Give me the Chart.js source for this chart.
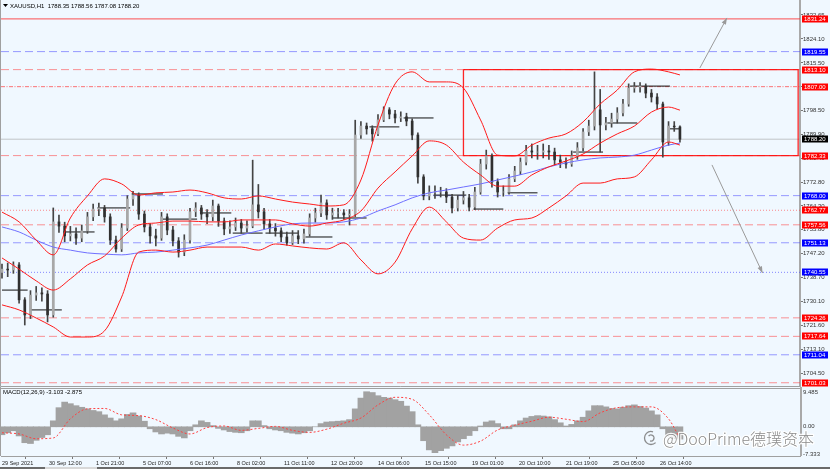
<!DOCTYPE html>
<html>
<head>
<meta charset="utf-8">
<script src="https://cdn.jsdelivr.net/npm/chart.js@4.4.1/dist/chart.umd.min.js"></script>
<style>
  html, body { margin: 0; padding: 0; background: #f0f8ff; }
  #wrap { position: relative; width: 830px; height: 469px; overflow: hidden; background: #f0f8ff; }
  #main { position: absolute; left: 0; top: 0; }
  #macd { position: absolute; left: 0; top: 387px; }
</style>
</head>
<body>
<div id="wrap">
  <canvas id="main" width="830" height="387"></canvas>
  <canvas id="macd" width="830" height="82"></canvas>
</div>
<script>
// XAUUSD H1, one sample every 4 bars (bar index on x)
const sampleStep = 4;
const firstOpen = 1740.5;
const closes = [1741.7,1741.4,1743.2,1730.7,1725.3,1732.4,1733.2,1732.8,1725.3,1758.6,
  1757.1,1753.6,1754.3,1752.8,1755.4,1760.4,1763.2,1763.6,1760.4,1752.1,
  1748.9,1756.4,1766.8,1768.2,1761.4,1756.8,1753.6,1752.8,1760.4,1755.7,
  1751.8,1747.8,1752.1,1762.2,1763.6,1761.4,1760.4,1764.3,1758.9,1756.1,
  1756.8,1758.2,1756.4,1757.1,1764.7,1762.2,1757.9,1756.4,1755.4,1753.2,
  1751.1,1753.6,1752.5,1754.3,1760.0,1761.8,1765.4,1761.1,1761.8,1761.8,
  1761.1,1761.4,1789.7,1792.9,1791.9,1790.1,1795.1,1798.7,1797.2,1795.8,
  1796.2,1794.7,1789.7,1774.7,1767.9,1769.3,1769.3,1769.3,1767.5,1763.6,
  1766.4,1767.2,1763.9,1769.3,1779.3,1782.2,1772.9,1769.3,1769.3,1774.0,
  1776.8,1780.0,1784.0,1783.6,1783.6,1784.0,1783.6,1780.8,1780.0,1779.3,
  1782.2,1785.1,1790.8,1792.9,1798.7,1793.3,1794.0,1795.4,1797.6,1800.8,
  1806.5,1806.9,1807.2,1804.7,1803.3,1800.8,1787.2,1792.9,1792.6,1788.2];
const highs = [1743.5,1743.9,1744.3,1744.0,1731.5,1734.0,1735.5,1735.0,1734.0,1763.6,
  1761.0,1758.5,1757.0,1756.5,1757.5,1762.0,1765.0,1765.3,1764.5,1761.5,
  1753.5,1758.0,1768.0,1769.5,1769.0,1762.5,1758.0,1756.0,1762.0,1761.5,
  1757.0,1753.0,1754.0,1763.5,1765.5,1764.5,1763.0,1766.4,1765.0,1760.0,
  1759.0,1760.0,1759.5,1759.0,1780.7,1772.0,1763.5,1759.5,1758.0,1756.5,
  1755.0,1755.5,1755.5,1756.0,1761.5,1763.5,1768.2,1766.5,1763.5,1763.5,
  1763.0,1763.0,1795.0,1794.5,1794.0,1793.0,1797.0,1799.8,1799.5,1798.5,
  1798.0,1797.5,1795.5,1790.5,1775.5,1771.5,1771.5,1771.0,1770.5,1768.5,
  1768.0,1769.5,1768.5,1771.0,1781.0,1784.3,1783.0,1774.0,1771.5,1775.5,
  1778.5,1781.5,1786.0,1786.5,1786.0,1786.5,1786.0,1785.0,1782.5,1781.5,
  1784.0,1787.0,1792.0,1795.0,1812.3,1806.0,1796.0,1797.5,1799.5,1802.5,
  1808.0,1808.5,1808.5,1808.0,1806.0,1804.5,1801.5,1794.5,1794.5,1793.0];
const lows = [1738.5,1739.0,1740.2,1729.5,1721.7,1724.0,1730.5,1730.2,1722.8,1724.5,
  1754.8,1751.5,1751.8,1750.5,1751.5,1754.5,1759.0,1760.8,1758.5,1750.5,
  1747.8,1748.0,1755.5,1764.5,1759.5,1755.0,1751.0,1750.0,1752.0,1754.0,
  1750.0,1746.0,1746.5,1751.0,1760.5,1759.5,1758.0,1759.0,1757.0,1754.0,
  1754.5,1755.5,1754.5,1755.0,1756.5,1760.0,1756.0,1754.5,1753.5,1751.5,
  1750.3,1750.5,1750.8,1751.0,1753.5,1758.5,1760.5,1759.5,1759.5,1760.0,
  1759.5,1757.5,1760.5,1788.5,1790.0,1787.5,1789.5,1794.5,1795.5,1794.0,
  1794.5,1793.0,1788.0,1772.5,1766.5,1766.5,1767.0,1767.5,1765.5,1761.8,
  1762.5,1765.0,1762.5,1763.0,1768.5,1777.5,1771.0,1767.5,1767.8,1768.5,
  1773.0,1775.5,1779.0,1781.5,1781.0,1781.5,1781.0,1779.0,1778.0,1777.8,
  1778.5,1781.0,1784.0,1789.5,1791.5,1783.6,1791.5,1792.5,1794.0,1796.5,
  1800.0,1805.0,1805.0,1803.0,1801.5,1799.0,1781.8,1786.0,1791.0,1787.1];

// bands and moving average, read every 12 bars
const bandBars = [0,12,24,36,48,60,72,84,96,108,120,132,144,156,168,180,192,204,216,228,
  240,252,264,276,288,300,312,324,336,348,360,372,384,396,408,420,432,444,456,468,476];
const upperBand = [1762.1,1758.6,1752.1,1746.8,1760.0,1767.9,1774.0,1772.2,1768.2,1769.0,
  1769.3,1770.0,1769.0,1767.2,1766.8,1767.9,1766.8,1765.7,1765.0,1764.3,
  1764.7,1773.6,1793.3,1808.0,1812.3,1808.7,1808.7,1806.5,1795.1,1782.5,
  1782.2,1786.1,1788.6,1790.1,1794.4,1800.8,1805.8,1812.3,1813.3,1812.3,1811.2];
const middleBand = [1745.7,1741.7,1737.5,1734.2,1738.2,1743.2,1746.4,1752.8,1757.5,1758.2,
  1758.9,1758.9,1758.6,1758.6,1759.3,1759.3,1759.3,1757.9,1757.1,1758.2,
  1759.3,1762.5,1770.7,1776.5,1782.2,1787.6,1786.1,1780.0,1775.4,1771.4,
  1771.4,1775.4,1778.3,1780.4,1782.9,1786.8,1790.1,1792.9,1797.9,1799.7,1798.6];
const lowerBand = [1728.9,1727.1,1724.2,1721.0,1717.4,1717.4,1719.6,1731.7,1747.8,1748.5,
  1747.8,1748.5,1749.6,1749.6,1749.6,1748.5,1750.7,1750.0,1749.3,1748.9,
  1751.1,1745.0,1740.0,1744.2,1756.1,1763.9,1758.6,1752.8,1752.1,1756.4,
  1759.3,1760.0,1763.6,1767.9,1772.5,1772.5,1774.0,1774.7,1780.8,1787.2,1786.1];
const maLine = [1756.8,1755.0,1752.1,1749.6,1748.5,1747.5,1747.1,1746.8,1747.5,1747.8,
  1748.5,1749.3,1750.3,1752.1,1753.9,1755.4,1756.8,1757.9,1758.2,1758.2,
  1758.6,1760.0,1762.5,1764.7,1767.2,1769.0,1770.0,1771.1,1772.2,1773.6,
  1775.0,1776.5,1778.3,1779.7,1780.8,1781.5,1781.8,1782.5,1784.3,1786.1,1786.8];

// short black level segments (bar from, bar to, price)
const segStart = [0,20,43,67,91,113,139,162,185,213,232,258,282,303,331,355,401,425,441,469];
const segEnd   = [18,42,65,90,113,137,161,183,208,232,256,279,303,326,352,376,422,446,469,476];
const segLevel = [1734.2,1727.1,1755.0,1763.6,1768.6,1759.6,1761.8,1754.6,1754.6,1753.2,
  1760.0,1792.6,1795.8,1768.2,1763.2,1769.0,1783.6,1794.0,1807.2,1791.9];

// horizontal levels
const redSolid = [1831.24];
const redDashed = [1813.10, 1782.33, 1757.56, 1724.26, 1717.64, 1701.03];
const redDashDot = [1807.00];
const redDotted = [1762.77];
const blueDashed = [1819.55, 1768.00, 1751.13, 1711.04];
const blueDotted = [1740.55];
const lastPrice = 1788.20;

// rectangle and arrows
const boxBars = [324, 559];
const boxPrices = [1813.10, 1782.33];
const arrowUpBars = [490, 509];
const arrowUpPrices = [1813.7, 1831.6];
const arrowDownBars = [498.5, 534];
const arrowDownPrices = [1779.0, 1740.3];

const priceTicks = [1832.65,1824.10,1815.50,1807.00,1798.50,1789.90,1781.40,1772.80,
  1764.30,1755.80,1747.20,1738.70,1730.10,1721.60,1713.10,1704.50];

const timeStep = 33;
const timeLabels = ['29 Sep 2021','30 Sep 12:00','1 Oct 21:00','5 Oct 07:00','6 Oct 16:00',
  '8 Oct 02:00','11 Oct 11:00','12 Oct 20:00','14 Oct 06:00','15 Oct 15:00','19 Oct 01:00',
  '20 Oct 10:00','21 Oct 19:00','25 Oct 05:00','26 Oct 14:00'];

// MACD(12,26,9)
const macdMain = [-2.0,-1.5,-1.0,-2.3,-4.0,-4.2,-3.4,-2.7,-2.0,1.5,
  4.8,6.2,5.8,5.3,4.9,4.5,4.1,3.8,3.0,2.2,
  1.5,2.0,3.1,3.5,2.7,1.4,-0.5,-1.3,-1.8,-1.6,
  -1.8,-2.4,-2.8,-1.0,0.5,1.5,1.1,0.3,-0.4,-0.8,
  -1.2,-1.4,-1.5,-1.0,1.5,1.5,0.3,-0.5,-0.8,-1.0,
  -1.4,-1.6,-1.8,-1.5,-1.0,0.0,0.8,1.2,1.3,1.4,
  1.5,1.8,4.5,7.2,8.8,8.6,7.8,7.4,7.2,6.8,
  6.4,5.2,3.8,0.5,-3.5,-5.8,-6.5,-6.0,-5.4,-4.8,
  -3.8,-3.0,-2.2,-1.0,0.2,1.2,1.5,0.8,-0.5,-0.5,
  0.5,1.5,2.2,2.6,2.8,2.7,2.5,1.8,1.0,0.2,
  0.6,1.5,2.4,4.0,5.3,5.3,5.0,4.6,4.5,4.9,
  5.3,5.5,5.1,4.7,4.0,3.0,-0.5,-2.3,-2.9,-3.103];
const macdSignal = [-1.5,-1.8,-3.0,-2.8,2.0,4.5,4.6,3.0,2.8,1.8,
  -0.3,-1.8,-0.2,0.2,-0.9,-0.4,0.1,-0.9,-1.4,-0.6,
  0.9,2.2,5.5,7.4,6.9,3.0,-2.0,-4.6,-3.6,-0.8,
  0.4,1.4,2.4,1.9,1.3,3.5,4.8,5.0,5.0,2.0,-2.875];
const macdMax = 9.485, macdMin = -7.333;

const xMin = -0.7, xMax = 560.3;
const priceMin = 1699.87, priceMax = 1837.66;

const FONT = '"Liberation Sans", Arial, sans-serif';

function levelLine(v, color, dash, width) {
  return {
    type: 'line', data: [{x: xMin, y: v}, {x: xMax, y: v}],
    borderColor: color, borderDash: dash, borderWidth: width || 1,
    pointRadius: 0, order: 10
  };
}

const opens = closes.map((c, i) => i === 0 ? firstOpen : closes[i - 1]);

const datasets = [];
redSolid.forEach(v => datasets.push(levelLine(v, 'rgba(255,40,40,0.65)', [], 1.2)));
redDashed.forEach(v => datasets.push(levelLine(v, 'rgba(255,60,60,0.55)', [8, 4])));
redDashDot.forEach(v => datasets.push(levelLine(v, 'rgba(255,60,60,0.7)', [4, 1.5, 1, 1.5])));
redDotted.forEach(v => datasets.push(levelLine(v, 'rgba(255,60,60,0.6)', [1, 2])));
blueDashed.forEach(v => datasets.push(levelLine(v, 'rgba(60,60,255,0.5)', [8, 4])));
blueDotted.forEach(v => datasets.push(levelLine(v, 'rgba(60,60,255,0.6)', [1, 2])));
datasets.push(levelLine(lastPrice, 'rgba(160,160,160,0.6)', []));

datasets.push({
  type: 'line',
  data: [{x: boxBars[0], y: boxPrices[0]}, {x: boxBars[1], y: boxPrices[0]},
         {x: boxBars[1], y: boxPrices[1]}, {x: boxBars[0], y: boxPrices[1]},
         {x: boxBars[0], y: boxPrices[0]}],
  borderColor: 'rgba(255,0,0,0.85)', borderWidth: 1.3, pointRadius: 0, order: 9
});

const segData = [];
segStart.forEach((s, i) => {
  segData.push({x: s, y: segLevel[i]}, {x: segEnd[i], y: segLevel[i]}, {x: segEnd[i], y: null});
});
datasets.push({type: 'line', data: segData, borderColor: '#111', borderWidth: 1,
  pointRadius: 0, spanGaps: false, order: 8});

datasets.push({
  type: 'bar', grouped: false, barThickness: 1, order: 7,
  data: closes.map((c, i) => ({x: i * sampleStep, y: [lows[i], highs[i]]})),
  backgroundColor: '#444'
});
datasets.push({
  type: 'bar', grouped: false, barThickness: 2, order: 6,
  data: closes.map((c, i) => ({x: i * sampleStep, y: [opens[i], c]})),
  backgroundColor: closes.map((c, i) => c >= opens[i] ? '#a8a8a8' : '#303030')
});

function bandLine(values, color, order) {
  return {
    type: 'line', data: bandBars.map((b, i) => ({x: b, y: values[i]})),
    borderColor: color, borderWidth: 1, pointRadius: 0,
    cubicInterpolationMode: 'monotone', order: order
  };
}
datasets.push(bandLine(maLine, '#6f6fff', 5));
datasets.push(bandLine(upperBand, '#ff1a1a', 4));
datasets.push(bandLine(middleBand, '#ff1a1a', 4));
datasets.push(bandLine(lowerBand, '#ff1a1a', 4));

datasets.push({type: 'line', arrow: true, order: 3, pointRadius: 0, borderWidth: 1,
  borderColor: '#9a9a9a',
  data: arrowUpBars.map((b, i) => ({x: b, y: arrowUpPrices[i]}))});
datasets.push({type: 'line', arrow: true, order: 3, pointRadius: 0, borderWidth: 1,
  borderColor: '#9a9a9a',
  data: arrowDownBars.map((b, i) => ({x: b, y: arrowDownPrices[i]}))});

const tags = [];
redSolid.concat(redDashed, redDashDot, redDotted).forEach(v => tags.push({v: v, c: '#ff0000'}));
blueDashed.concat(blueDotted).forEach(v => tags.push({v: v, c: '#0000ff'}));
tags.push({v: lastPrice, c: '#000000'});

const mainOverlay = {
  id: 'mainOverlay',
  afterDraw(chart) {
    const ctx = chart.ctx, a = chart.chartArea, y = chart.scales.y;
    ctx.save();
    ctx.strokeStyle = '#a0a0a0';
    ctx.lineWidth = 1;
    ctx.beginPath();
    ctx.moveTo(0.5, 0); ctx.lineTo(0.5, a.bottom + 0.5);
    ctx.lineTo(a.right, a.bottom + 0.5);
    ctx.stroke();

    // arrow heads
    chart.data.datasets.forEach((ds, di) => {
      if (!ds.arrow) return;
      const pts = chart.getDatasetMeta(di).data;
      const p0 = pts[pts.length - 2], p1 = pts[pts.length - 1];
      const ang = Math.atan2(p1.y - p0.y, p1.x - p0.x);
      ctx.fillStyle = '#9a9a9a';
      ctx.beginPath();
      ctx.moveTo(p1.x, p1.y);
      ctx.lineTo(p1.x - 7 * Math.cos(ang - 0.35), p1.y - 7 * Math.sin(ang - 0.35));
      ctx.lineTo(p1.x - 7 * Math.cos(ang + 0.35), p1.y - 7 * Math.sin(ang + 0.35));
      ctx.closePath();
      ctx.fill();
    });

    // title
    ctx.fillStyle = '#000';
    ctx.beginPath();
    ctx.moveTo(3, 4); ctx.lineTo(8, 4); ctx.lineTo(5.5, 7); ctx.closePath(); ctx.fill();
    ctx.font = '6px ' + FONT;
    ctx.textBaseline = 'middle';
    ctx.textAlign = 'left';
    ctx.fillText('XAUUSD,H1  ' + [1788.35, 1788.56, 1787.08, lastPrice].map(v => v.toFixed(2)).join(' '), 10, 6);

    // price tags on the axis
    tags.forEach(t => {
      const py = Math.round(y.getPixelForValue(t.v));
      ctx.fillStyle = t.c;
      ctx.fillRect(a.right + 2, py - 3.5, 26, 7);
      ctx.fillStyle = '#fff';
      ctx.fillText(t.v.toFixed(2), a.right + 4, py + 0.5);
    });
    ctx.restore();
  }
};

new Chart(document.getElementById('main'), {
  type: 'bar',
  data: {datasets: datasets},
  options: {
    responsive: false,
    animation: false,
    events: [],
    layout: {padding: {left: 1, top: 1, right: 0, bottom: 1}},
    plugins: {legend: {display: false}, tooltip: {enabled: false}},
    scales: {
      x: {type: 'linear', min: xMin, max: xMax, offset: false, display: false},
      y: {
        type: 'linear', position: 'right', min: priceMin, max: priceMax, beginAtZero: false,
        afterBuildTicks: s => { s.ticks = priceTicks.map(v => ({value: v})); },
        afterFit: s => { s.width = 30; s.paddingTop = 0; s.paddingBottom = 0; },
        ticks: {callback: v => Number(v).toFixed(2), font: {family: FONT, size: 6},
          color: '#333', padding: 0},
        grid: {drawOnChartArea: false, tickLength: 3, color: '#777'},
        border: {display: true, color: '#a9a9a9', width: 2}
      }
    }
  },
  plugins: [mainOverlay]
});

const macdOverlay = {
  id: 'macdOverlay',
  afterDraw(chart) {
    const ctx = chart.ctx, a = chart.chartArea, y = chart.scales.y;
    ctx.save();
    ctx.strokeStyle = '#a0a0a0';
    ctx.lineWidth = 1;
    ctx.beginPath();
    ctx.moveTo(0, a.top - 0.5); ctx.lineTo(a.right, a.top - 0.5);
    ctx.moveTo(0.5, 0); ctx.lineTo(0.5, a.bottom);
    ctx.stroke();
    ctx.strokeStyle = '#a9a9a9';
    ctx.lineWidth = 2;
    ctx.beginPath();
    ctx.moveTo(a.right + 1, 0); ctx.lineTo(a.right + 1, a.bottom);
    ctx.stroke();

    ctx.fillStyle = '#000';
    ctx.font = '6px ' + FONT;
    ctx.textAlign = 'left';
    ctx.textBaseline = 'middle';
    ctx.fillText('MACD(12,26,9) ' + macdMain[macdMain.length - 1].toFixed(3) + ' ' +
      macdSignal[macdSignal.length - 1].toFixed(3), 3, a.top + 3.5);

    ctx.fillStyle = '#333';
    ctx.textBaseline = 'top';
    ctx.fillText(macdMax.toFixed(3), a.right + 3, y.getPixelForValue(macdMax));
    ctx.textBaseline = 'middle';
    ctx.fillText('0.00', a.right + 3, y.getPixelForValue(0));
    ctx.textBaseline = 'bottom';
    ctx.fillText(macdMin.toFixed(3), a.right + 3, y.getPixelForValue(macdMin) + 1);

    // watermark
    ctx.lineWidth = 1.3;
    ctx.strokeStyle = 'rgba(120,120,120,0.85)';
    ctx.beginPath();
    ctx.arc(651, 51, 6.5, 0.25 * Math.PI, 1.6 * Math.PI);
    ctx.stroke();
    ctx.beginPath();
    ctx.arc(651, 51, 3, 1.2 * Math.PI, 2.6 * Math.PI);
    ctx.stroke();
    ctx.font = '300 16px "Noto Sans CJK SC", "Noto Sans", sans-serif';
    ctx.textBaseline = 'alphabetic';
    ctx.lineJoin = 'round';
    ctx.lineWidth = 2.5;
    ctx.strokeStyle = 'rgba(255,255,255,0.9)';
    ctx.strokeText('@DooPrime德璞资本', 663, 58);
    ctx.fillStyle = 'rgba(125,125,125,0.9)';
    ctx.fillText('@DooPrime德璞资本', 663, 58);

    // bottom strip
    ctx.fillStyle = '#6a6a6a';
    ctx.fillRect(0, 80, 830, 2);
    ctx.fillStyle = '#d8d8d8';
    ctx.fillRect(45, 80, 52, 2);
    ctx.restore();
  }
};

new Chart(document.getElementById('macd'), {
  type: 'bar',
  data: {
    datasets: [
      {type: 'line', order: 1, borderColor: '#ff4040', borderDash: [2, 2], borderWidth: 1,
        pointRadius: 0, cubicInterpolationMode: 'monotone',
        data: bandBars.map((b, i) => ({x: b, y: macdSignal[i]}))},
      {type: 'bar', order: 2, grouped: false, barThickness: 6, backgroundColor: '#a2a2a2',
        data: macdMain.map((v, i) => ({x: i * sampleStep, y: v}))}
    ]
  },
  options: {
    responsive: false,
    animation: false,
    events: [],
    layout: {padding: {left: 1, top: 2, right: 30, bottom: 1}},
    plugins: {legend: {display: false}, tooltip: {enabled: false}},
    scales: {
      x: {
        type: 'linear', min: xMin, max: xMax, offset: false,
        afterBuildTicks: s => { s.ticks = timeLabels.map((t, i) => ({value: i * timeStep})); },
        afterFit: s => { s.height = 12; s.paddingLeft = 0; s.paddingRight = 0; },
        ticks: {autoSkip: false, maxRotation: 0, minRotation: 0, align: 'start', padding: 1,
          font: {family: FONT, size: 5.5}, color: '#222',
          callback: (v, i) => timeLabels[i]},
        grid: {drawOnChartArea: false, tickLength: 3, color: '#777'},
        border: {display: true, color: '#a0a0a0', width: 1}
      },
      y: {display: false, min: macdMin, max: macdMax}
    }
  },
  plugins: [macdOverlay]
});
</script>
</body>
</html>
